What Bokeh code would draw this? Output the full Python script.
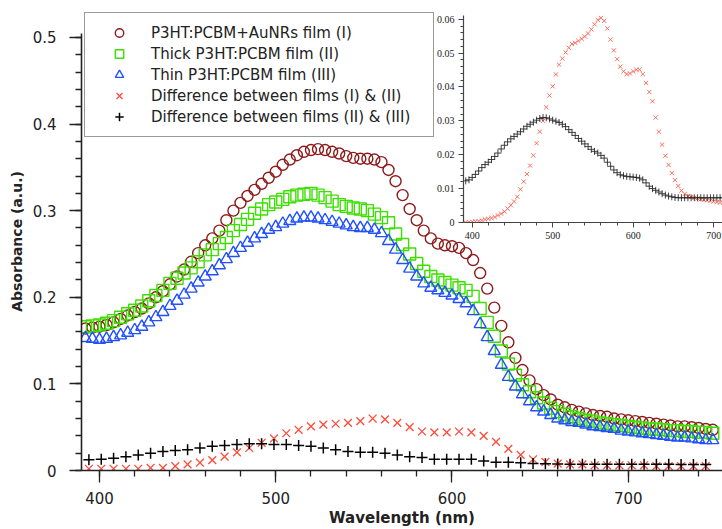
from bokeh.plotting import figure
from bokeh.models import (Range1d, SingleIntervalTicker, CustomJSTickFormatter,
                          Legend, LegendItem)
from bokeh.layouts import column
from bokeh.embed import file_html
from bokeh.resources import INLINE

# ---------------- data ----------------
# main spectra, wavelength grid (nm)
wavelength = list(range(392, 749, 4))

film_I = [0.164, 0.165, 0.166, 0.168, 0.171, 0.175, 0.179, 0.183, 0.187, 0.193,
          0.200, 0.207, 0.215, 0.224, 0.232, 0.241, 0.251, 0.260, 0.268, 0.277,
          0.289, 0.300, 0.309, 0.317, 0.324, 0.331, 0.338, 0.345, 0.353, 0.359,
          0.364, 0.368, 0.370, 0.371, 0.370, 0.368, 0.366, 0.363, 0.361, 0.360,
          0.360, 0.359, 0.356, 0.347, 0.334, 0.318, 0.302, 0.289, 0.277, 0.268,
          0.262, 0.260, 0.259, 0.257, 0.251, 0.243, 0.228, 0.210, 0.188, 0.167,
          0.148, 0.130, 0.116, 0.104, 0.094, 0.087, 0.082, 0.076, 0.073, 0.070,
          0.068, 0.066, 0.064, 0.063, 0.062, 0.060, 0.059, 0.058, 0.057, 0.056,
          0.055, 0.054, 0.053, 0.052, 0.051, 0.051, 0.050, 0.049, 0.048, 0.047]

film_II = [0.166, 0.167, 0.168, 0.170, 0.173, 0.177, 0.181, 0.185, 0.190, 0.196,
           0.202, 0.208, 0.216, 0.222, 0.228, 0.234, 0.241, 0.249, 0.255, 0.262,
           0.269, 0.277, 0.284, 0.290, 0.297, 0.302, 0.307, 0.310, 0.313, 0.316,
           0.318, 0.319, 0.320, 0.318, 0.315, 0.311, 0.307, 0.305, 0.303, 0.302,
           0.300, 0.296, 0.292, 0.286, 0.273, 0.261, 0.250, 0.239, 0.230, 0.224,
           0.220, 0.217, 0.214, 0.211, 0.208, 0.201, 0.187, 0.171, 0.155, 0.138,
           0.123, 0.110, 0.099, 0.091, 0.084, 0.078, 0.072, 0.068, 0.065, 0.062,
           0.060, 0.058, 0.057, 0.055, 0.054, 0.053, 0.052, 0.051, 0.050, 0.049,
           0.048, 0.048, 0.047, 0.046, 0.046, 0.045, 0.045, 0.044, 0.044, 0.043]

film_III = [0.153, 0.152, 0.151, 0.152, 0.154, 0.156, 0.159, 0.162, 0.166, 0.171,
            0.177, 0.183, 0.190, 0.196, 0.203, 0.210, 0.217, 0.224, 0.230, 0.237,
            0.244, 0.251, 0.257, 0.263, 0.268, 0.273, 0.278, 0.281, 0.285, 0.288,
            0.291, 0.292, 0.292, 0.291, 0.289, 0.287, 0.285, 0.283, 0.281, 0.280,
            0.280, 0.278, 0.274, 0.265, 0.255, 0.243, 0.233, 0.224, 0.216, 0.211,
            0.208, 0.205, 0.202, 0.198, 0.193, 0.184, 0.169, 0.154, 0.138, 0.122,
            0.108, 0.097, 0.088, 0.080, 0.073, 0.068, 0.064, 0.060, 0.058, 0.056,
            0.055, 0.053, 0.051, 0.050, 0.049, 0.048, 0.046, 0.045, 0.044, 0.043,
            0.042, 0.041, 0.040, 0.039, 0.038, 0.038, 0.037, 0.036, 0.035, 0.035]

# difference spectra shown in the main panel
wavelength_diff = list(range(394, 745, 7))

diff_I_II = [0.002, 0.002, 0.002, 0.002, 0.002, 0.003, 0.003, 0.005, 0.007, 0.009,
             0.012, 0.016, 0.021, 0.026, 0.032, 0.037, 0.043, 0.047, 0.051, 0.053,
             0.054, 0.055, 0.057, 0.060, 0.059, 0.055, 0.050, 0.045, 0.044, 0.044,
             0.045, 0.044, 0.040, 0.033, 0.025, 0.018, 0.013, 0.010, 0.008, 0.007,
             0.007, 0.006, 0.006, 0.006, 0.006, 0.006, 0.005, 0.005, 0.005, 0.005,
             0.005]

diff_II_III = [0.0125, 0.013, 0.014, 0.016, 0.018, 0.020, 0.022, 0.023, 0.024, 0.026,
               0.028, 0.029, 0.030, 0.031, 0.031, 0.030, 0.030, 0.029, 0.028, 0.026,
               0.024, 0.022, 0.021, 0.021, 0.020, 0.018, 0.016, 0.015, 0.013, 0.013,
               0.013, 0.013, 0.011, 0.0095, 0.0095, 0.009, 0.008, 0.0077, 0.0075, 0.0073,
               0.0072, 0.0072, 0.0072, 0.0072, 0.0072, 0.0071, 0.0071, 0.0071, 0.007, 0.007,
               0.007]

# inset difference spectra
wavelength_inset = list(range(392, 713, 4))

inset_I_II = [0.0000, 0.0001, 0.0002, 0.0003, 0.0004, 0.0006, 0.0009, 0.0011, 0.0013, 0.0016,
              0.0021, 0.0026, 0.0032, 0.0041, 0.0051, 0.0062, 0.0076, 0.0098, 0.0121, 0.0143,
              0.0168, 0.0198, 0.0234, 0.0268, 0.0300, 0.0340, 0.0375, 0.0402, 0.0437, 0.0466,
              0.0484, 0.0502, 0.0516, 0.0527, 0.0530, 0.0536, 0.0542, 0.0549, 0.0558, 0.0570,
              0.0585, 0.0598, 0.0604, 0.0595, 0.0573, 0.0540, 0.0508, 0.0482, 0.0460, 0.0446,
              0.0438, 0.0440, 0.0446, 0.0451, 0.0451, 0.0438, 0.0412, 0.0385, 0.0358, 0.0310,
              0.0268, 0.0230, 0.0197, 0.0170, 0.0146, 0.0125, 0.0108, 0.0094, 0.0084, 0.0078,
              0.0075, 0.0073, 0.0071, 0.0069, 0.0067, 0.0066, 0.0064, 0.0062, 0.0060, 0.0059,
              0.0058]

inset_II_III = [0.0123, 0.0126, 0.0133, 0.0142, 0.0152, 0.0162, 0.0171, 0.0178, 0.0186, 0.0195,
                0.0205, 0.0217, 0.0228, 0.0238, 0.0247, 0.0254, 0.0261, 0.0268, 0.0276, 0.0284,
                0.0290, 0.0296, 0.0302, 0.0307, 0.0310, 0.0309, 0.0306, 0.0302, 0.0299, 0.0295,
                0.0290, 0.0283, 0.0274, 0.0266, 0.0257, 0.0248, 0.0240, 0.0232, 0.0224, 0.0216,
                0.0210, 0.0205, 0.0198, 0.0190, 0.0178, 0.0166, 0.0155, 0.0147, 0.0141, 0.0138,
                0.0136, 0.0135, 0.0134, 0.0133, 0.0131, 0.0126, 0.0117, 0.0107, 0.0100, 0.0095,
                0.0090, 0.0085, 0.0081, 0.0078, 0.0076, 0.0074, 0.0073, 0.0073, 0.0073, 0.0073,
                0.0073, 0.0073, 0.0073, 0.0073, 0.0073, 0.0073, 0.0073, 0.0073, 0.0073, 0.0073,
                0.0073]

labels = ["P3HT:PCBM+AuNRs film (I)",
          "Thick P3HT:PCBM film (II)",
          "Thin P3HT:PCBM film (III)",
          "Difference between films (I) & (II)",
          "Difference between films (II) & (III)"]

FONT = "DejaVu Sans"
TXT = "#222222"

# ---------------- main figure ----------------
p = figure(width=722, height=529, output_backend="svg", toolbar_location=None,
           x_range=Range1d(389.8, 753.5), y_range=Range1d(0, 0.5288),
           min_border_left=81, min_border_right=0, min_border_top=12,
           min_border_bottom=58)
p.outline_line_color = None
p.grid.visible = False
p.background_fill_alpha = 0
p.border_fill_alpha = 0

fmt = CustomJSTickFormatter(code="return Number(tick.toFixed(4)).toString();")

p.xaxis.ticker = SingleIntervalTicker(interval=100, num_minor_ticks=5)
p.yaxis.ticker = SingleIntervalTicker(interval=0.1, num_minor_ticks=5)
p.yaxis.formatter = fmt
p.yaxis.bounds = (0, 0.5046)
for ax in (p.xaxis[0], p.yaxis[0]):
    ax.axis_line_width = 1.6
    ax.axis_line_color = TXT
    ax.major_tick_line_color = TXT
    ax.minor_tick_line_color = TXT
    ax.major_tick_line_width = 1.3
    ax.minor_tick_line_width = 1.3
    ax.major_tick_in = 0
    ax.minor_tick_in = 0
    ax.major_tick_out = 12
    ax.minor_tick_out = 6
    ax.major_label_text_font = FONT
    ax.major_label_text_font_size = "15px"
    ax.major_label_text_color = TXT
    ax.axis_label_text_font = FONT
    ax.axis_label_text_font_style = "bold"
    ax.axis_label_text_color = TXT

p.xaxis.axis_label = "Wavelength (nm)"
p.xaxis.axis_label_text_font_size = "15px"
p.xaxis.major_label_standoff = 9
p.xaxis.axis_label_standoff = 2
p.yaxis.axis_label = "Absorbance (a.u.)"
p.yaxis.axis_label_text_font_size = "14px"
p.yaxis.major_label_standoff = 13
p.yaxis.axis_label_standoff = 5

r1 = p.scatter(wavelength, film_I, marker="circle", size=11, fill_color=None,
               line_color="#8E1B1B", line_width=1.4)
r2 = p.scatter(wavelength, film_II, marker="square", size=12, fill_color=None,
               line_color="#3BE000", line_width=1.4)
r3 = p.scatter(wavelength, film_III, marker="triangle", size=12, fill_color=None,
               line_color="#2150FF", line_width=1.4)
r4 = p.scatter(wavelength_diff, diff_I_II, marker="x", size=11,
               line_color="#FF4B3A", line_width=1.3)
r5 = p.scatter(wavelength_diff, diff_II_III, marker="cross", size=11,
               line_color="black", line_width=1.5)

legend = Legend(items=[LegendItem(label=l, renderers=[r]) for l, r in
                       zip(labels, [r1, r2, r3, r4, r5])],
                location=(3, 333), orientation="vertical",
                border_line_color="#333333", border_line_width=1.6,
                background_fill_color="white", background_fill_alpha=1.0,
                padding=9, spacing=0, margin=0,
                label_height=21, glyph_height=21, glyph_width=50,
                label_standoff=7, label_width=273,
                label_text_font=FONT, label_text_font_size="15px",
                label_text_color=TXT)
p.add_layout(legend)

# ---------------- inset figure ----------------
q = figure(width=340, height=245, output_backend="svg", toolbar_location=None,
           x_range=Range1d(389.2, 711.0), y_range=Range1d(0, 0.0611),
           min_border_left=81, min_border_right=0, min_border_top=15,
           min_border_bottom=23,
           styles={"position": "absolute", "left": "382px", "top": "0px"})
q.outline_line_color = None
q.grid.visible = False
q.background_fill_alpha = 0
q.border_fill_alpha = 0

q.xaxis.ticker = SingleIntervalTicker(interval=100, num_minor_ticks=5)
q.yaxis.ticker = SingleIntervalTicker(interval=0.01, num_minor_ticks=5)
q.yaxis.formatter = fmt
NARROW = "Liberation Sans Narrow"
for ax in (q.xaxis[0], q.yaxis[0]):
    ax.axis_line_width = 1.2
    ax.axis_line_color = "#444444"
    ax.major_tick_line_color = "#444444"
    ax.minor_tick_line_color = "#444444"
    ax.major_tick_in = 0
    ax.minor_tick_in = 0
    ax.major_tick_out = 5
    ax.minor_tick_out = 3
    ax.major_label_text_font = NARROW
    ax.major_label_text_font_size = "10px"
    ax.major_label_text_color = TXT
    ax.major_label_standoff = 4

q.scatter(wavelength_inset, inset_I_II, marker="x", size=6,
          line_color="#FF5544", line_width=1.0, line_alpha=0.85)
q.scatter(wavelength_inset, inset_II_III, marker="cross", size=7,
          line_color="#222222", line_width=1.0, line_alpha=0.85)

layout = column(p, q, styles={"position": "relative"})
open("out.html", "w").write(file_html(layout, INLINE))
